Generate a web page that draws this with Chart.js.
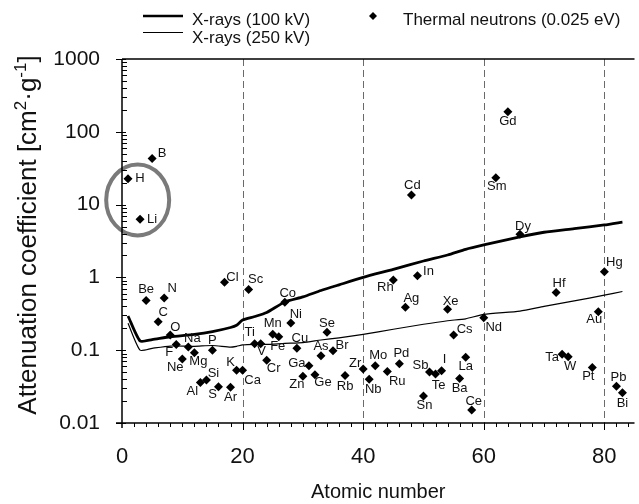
<!DOCTYPE html>
<html>
<head>
<meta charset="utf-8">
<script src="https://cdn.jsdelivr.net/npm/chart.js@4.4.0/dist/chart.umd.min.js"></script>
<style>
  html, body { margin: 0; padding: 0; background: #fff; }
  #wrap { width: 639px; height: 504px; }
</style>
</head>
<body>
<div id="wrap"><canvas id="chart" width="639" height="504"></canvas></div>
<script>
// thermal neutrons (0.025 eV)
const elements = ['H','Li','Be','B','C','N','O','F','Ne','Na',
  'Mg','Al','Si','P','S','Cl','Ar','K','Ca','Sc',
  'Ti','V','Cr','Mn','Fe','Co','Ni','Cu','Zn','Ga',
  'Ge','As','Se','Br','Rb','Zr','Nb','Mo','Ru','Rh',
  'Pd','Ag','Cd','In','Sn','Sb','Te','I','Xe','Cs',
  'Ba','La','Ce','Nd','Sm','Gd','Dy','Hf','Ta','W',
  'Pt','Au','Hg','Pb','Bi'];
const atomicNumbers = [1,3,4,5,6,7,8,9,10,11,
  12,13,14,15,16,17,18,19,20,21,
  22,23,24,25,26,27,28,29,30,31,
  32,33,34,35,37,40,41,42,44,45,
  46,47,48,49,50,51,52,53,54,55,
  56,57,58,60,62,64,66,72,73,74,
  78,79,80,82,83];
const neutronCoeff = [22.7,6.3,0.48,43,0.246,0.52,0.162,0.12,0.076,0.111,
  0.092,0.036,0.039,0.1,0.0315,0.86,0.031,0.053,0.053,0.68,
  0.123,0.123,0.073,0.165,0.153,0.455,0.236,0.106,0.044,0.061,
  0.046,0.084,0.176,0.098,0.045,0.055,0.04,0.061,0.051,0.92,
  0.065,0.388,13.5,1.05,0.0235,0.05,0.047,0.052,0.365,0.162,
  0.041,0.08,0.0151,0.28,23.4,189,3.9,0.62,0.088,0.081,
  0.058,0.338,1.2,0.032,0.026];

// x-rays
const xrayZ  = [1,3,5,8,12,15,18,19,20,22,24,27,30,33,36,40,45,50,54,57,60,66,70,75,80,83];
const kv100  = [0.295,0.134,0.14,0.153,0.165,0.18,0.205,0.22,0.26,0.29,0.33,0.46,0.54,0.66,0.79,1.0,1.29,1.68,2.03,2.43,2.79,3.6,4.17,4.67,5.25,5.75];
const kv250  = [0.234,0.1,0.106,0.114,0.113,0.116,0.11,0.113,0.118,0.12,0.12,0.124,0.127,0.138,0.148,0.165,0.194,0.227,0.254,0.27,0.31,0.345,0.40,0.475,0.57,0.64];

const yTickLabels = ['0.01','0.1','1','10','100','1000'];
const xTickValues = [0,20,40,60,80];
const dashedAt = [20,40,60,80];
const circled = {x: 2.6, y: 11.6};   // H & Li ring

// where each element label sits relative to its diamond (px)
const labelOffsets = {
  H:[12,0], Li:[12,0], Be:[0,-11], B:[10,-5], C:[5,-9], N:[8,-10], O:[5,-8], F:[-7,8], Ne:[-7,9], Na:[4,-8],
  Mg:[4,9], Al:[-8,9], Si:[7,-7], P:[0,-10], S:[-6,8], Cl:[8,-5], Ar:[0,10], K:[-6,-8], Ca:[10,10], Sc:[7,-10],
  Ti:[-5,-11], V:[1,8], Cr:[7,8], Mn:[0,-11], Fe:[-1,10], Co:[3,-9], Ni:[5,-9], Cu:[3,-10], Zn:[-6,8], Ga:[-12,-2],
  Ge:[8,8], As:[0,-9], Se:[0,-9], Br:[9,-5], Rb:[0,11], Zr:[-8,-6], Nb:[4,10], Mo:[3,-10], Ru:[10,10], Rh:[-8,7],
  Pd:[2,-10], Ag:[6,-9], Cd:[1,-10], In:[11,-4], Sn:[1,9], Sb:[-9,-7], Te:[3,11], I:[3,-11], Xe:[3,-8], Cs:[11,-6],
  Ba:[0,10], La:[0,9], Ce:[2,-9], Nd:[10,10], Sm:[1,9], Gd:[0,10], Dy:[3,-8], Hf:[3,-9], Ta:[-10,3], W:[2,10],
  Pt:[-4,9], Au:[-4,8], Hg:[10,-9], Pb:[2,-9], Bi:[0,11]
};

const FONT = "'Liberation Sans', Arial, Helvetica, sans-serif";
const INK = '#111';

const neutronPts = atomicNumbers.map((z, i) => ({x: z, y: neutronCoeff[i]}));
const kv100Pts = xrayZ.map((z, i) => ({x: z, y: kv100[i]}));
const kv250Pts = xrayZ.map((z, i) => ({x: z, y: kv250[i]}));

const decor = {
  id: 'decor',
  beforeDatasetsDraw(chart) {
    const {ctx, chartArea: a, scales: {x}} = chart;
    ctx.save();
    ctx.strokeStyle = '#6a6a6a';
    ctx.lineWidth = 1;
    ctx.setLineDash([7, 4]);
    dashedAt.forEach(v => {
      const px = Math.round(x.getPixelForValue(v)) + 0.5;
      ctx.beginPath(); ctx.moveTo(px, a.top); ctx.lineTo(px, a.bottom); ctx.stroke();
    });
    ctx.restore();
  },
  afterDatasetsDraw(chart) {
    const {ctx, chartArea: a, scales: {x, y}} = chart;
    ctx.save();

    // element labels
    const meta = chart.getDatasetMeta(0);
    ctx.fillStyle = INK;
    ctx.font = '13px ' + FONT;
    ctx.textAlign = 'center';
    ctx.textBaseline = 'middle';
    meta.data.forEach((pt, i) => {
      const off = labelOffsets[elements[i]] || [0, -10];
      ctx.fillText(elements[i], pt.x + off[0], pt.y + off[1]);
    });

    // grey ring round H and Li
    ctx.strokeStyle = '#7a7a7a';
    ctx.lineWidth = 4;
    ctx.beginPath();
    ctx.ellipse(x.getPixelForValue(circled.x), y.getPixelForValue(circled.y), 31.5, 35.5, 0, 0, Math.PI * 2);
    ctx.stroke();

    // frame
    ctx.strokeStyle = '#000';
    ctx.lineWidth = 1.5;
    ctx.beginPath();
    ctx.moveTo(a.left, a.top); ctx.lineTo(a.right, a.top);
    ctx.moveTo(a.left, a.top); ctx.lineTo(a.left, a.bottom + 5);
    ctx.moveTo(a.left - 6, a.bottom); ctx.lineTo(a.right, a.bottom);
    ctx.stroke();

    // y ticks: decades out, minors in
    ctx.lineWidth = 1;
    ctx.beginPath();
    for (let d = -2; d <= 3; d++) {
      const py = Math.round(y.getPixelForValue(Math.pow(10, d))) + 0.5;
      ctx.moveTo(a.left - 6, py); ctx.lineTo(a.left + 4, py);
      if (d < 3) {
        for (let m = 2; m <= 9; m++) {
          const qy = Math.round(y.getPixelForValue(m * Math.pow(10, d))) + 0.5;
          ctx.moveTo(a.left, qy); ctx.lineTo(a.left + 5, qy);
        }
      }
    }
    // x ticks
    for (let v = 2; v <= 84; v += 2) {
      const px = Math.round(x.getPixelForValue(v)) + 0.5;
      const len = v % 20 === 0 ? 7 : 4;
      ctx.moveTo(px, a.bottom); ctx.lineTo(px, a.bottom + len);
    }
    ctx.stroke();

    // y axis title with superscripts
    const parts = [
      ['Attenuation coefficient [cm', 26, 0],
      ['2', 17, -10],
      ['\u00b7g', 26, 0],
      ['-1', 17, -10],
      [']', 26, 0]
    ];
    let total = 0;
    parts.forEach(p => { ctx.font = p[1] + 'px ' + FONT; total += ctx.measureText(p[0]).width; });
    ctx.translate(36, (a.top + a.bottom) / 2 - 6);
    ctx.rotate(-Math.PI / 2);
    ctx.textAlign = 'left';
    ctx.textBaseline = 'alphabetic';
    ctx.fillStyle = INK;
    let cx = -total / 2;
    parts.forEach(p => {
      ctx.font = p[1] + 'px ' + FONT;
      ctx.fillText(p[0], cx, p[2]);
      cx += ctx.measureText(p[0]).width;
    });
    ctx.restore();

    // legend
    ctx.save();
    ctx.strokeStyle = '#000';
    ctx.lineWidth = 2.6;
    ctx.beginPath(); ctx.moveTo(143, 16); ctx.lineTo(183, 16); ctx.stroke();
    ctx.lineWidth = 1;
    ctx.beginPath(); ctx.moveTo(143, 32.5); ctx.lineTo(183, 32.5); ctx.stroke();
    ctx.fillStyle = '#000';
    ctx.beginPath();
    ctx.moveTo(373, 12); ctx.lineTo(377, 16); ctx.lineTo(373, 20); ctx.lineTo(369, 16); ctx.closePath();
    ctx.fill();
    ctx.fillStyle = INK;
    ctx.font = '17px ' + FONT;
    ctx.textAlign = 'left';
    ctx.textBaseline = 'alphabetic';
    ctx.fillText('X-rays (100 kV)', 192, 25);
    ctx.fillText('X-rays (250 kV)', 192, 43);
    ctx.fillText('Thermal neutrons (0.025 eV)', 403, 25);
    ctx.restore();
  }
};

new Chart(document.getElementById('chart'), {
  type: 'scatter',
  data: {
    datasets: [
      {
        label: 'Thermal neutrons (0.025 eV)',
        data: neutronPts,
        pointStyle: 'rectRot',
        pointRadius: 4.5,
        backgroundColor: '#000',
        borderWidth: 0
      },
      {
        label: 'X-rays (100 kV)',
        data: kv100Pts,
        showLine: true,
        borderColor: '#000',
        borderWidth: 2.8,
        pointRadius: 0,
        tension: 0.2
      },
      {
        label: 'X-rays (250 kV)',
        data: kv250Pts,
        showLine: true,
        borderColor: '#000',
        borderWidth: 1.2,
        pointRadius: 0,
        tension: 0.2
      }
    ]
  },
  options: {
    responsive: false,
    animation: false,
    layout: { padding: { top: 59, right: 0, left: 0, bottom: 0 } },
    plugins: {
      legend: { display: false },
      tooltip: { enabled: false }
    },
    scales: {
      x: {
        type: 'linear',
        min: 0,
        max: 85,
        afterFit: s => { s.height = 81; },
        afterBuildTicks: s => { s.ticks = xTickValues.map(v => ({value: v})); },
        grid: { display: false, drawTicks: false },
        border: { display: false },
        ticks: {
          color: INK,
          font: { family: FONT, size: 22 },
          padding: 21,
          callback: v => String(v)
        },
        title: {
          display: true,
          text: 'Atomic number',
          color: INK,
          font: { family: FONT, size: 20 },
          padding: { top: 0, bottom: 0 }
        }
      },
      y: {
        type: 'logarithmic',
        min: 0.01,
        max: 1000,
        afterFit: s => { s.width = 122; },
        grid: { display: false, drawTicks: false },
        border: { display: false },
        ticks: {
          autoSkip: false,
          color: INK,
          font: { family: FONT, size: 21 },
          padding: 22,
          callback: v => {
            const l = Math.log10(v);
            return Math.abs(l - Math.round(l)) < 1e-6 ? yTickLabels[Math.round(l) + 2] : '';
          }
        }
      }
    }
  },
  plugins: [decor]
});
</script>
</body>
</html>
